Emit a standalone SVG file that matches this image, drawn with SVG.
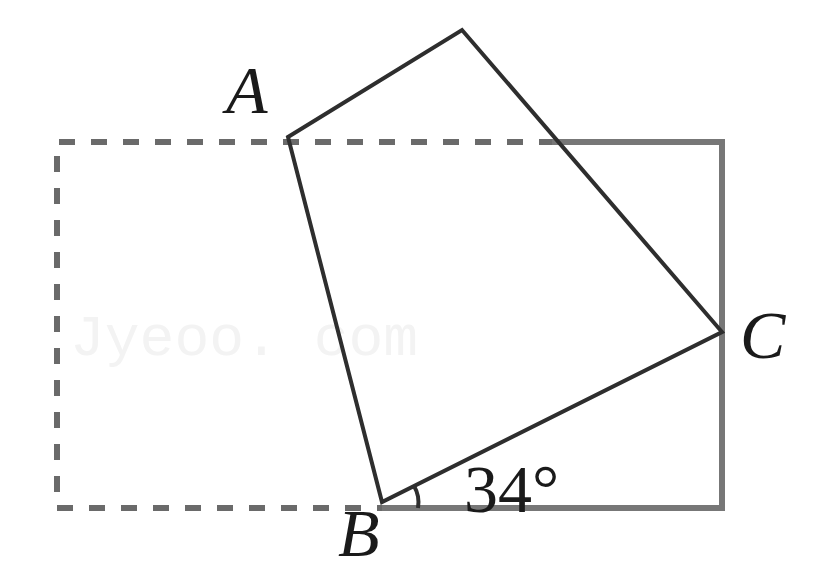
<svg xmlns="http://www.w3.org/2000/svg" width="820" height="571" viewBox="0 0 820 571">
<style>
.dash{fill:none;stroke:#6a6a6a;stroke-width:6;stroke-dasharray:16 16}
.rect{fill:none;stroke:#777;stroke-width:6;stroke-linecap:square}
.edge{fill:none;stroke:#2e2e2e;stroke-width:4;stroke-linejoin:miter}
.lbl{font-family:"Liberation Serif",serif;font-style:italic;font-size:68px;fill:#1a1a1a}
.num{font-family:"Liberation Serif",serif;font-size:68px;fill:#1a1a1a}
.wm{font-family:"Liberation Mono",monospace;font-size:58px;fill:#f3f3f3}
</style>
<rect width="820" height="571" fill="#fff"/>
<text class="wm" x="70" y="355">Jyeoo. com</text>
<g id="rectangle">
<path class="dash" d="M555 142 H57 V508 H385"/>
<path class="rect" d="M555 142 H722 V508 H385"/>
</g>
<g id="connectors">
<path class="edge" d="M288 137 L462 30 L722 332 L382 502 Z"/>
<path class="edge" d="M418 508 Q420 496 414 486" stroke-width="3"/>
</g>
<g id="A"><text class="lbl" x="226" y="113">A</text></g>
<g id="C"><text class="lbl" x="740" y="358">C</text></g>
<g id="B"><text class="lbl" x="338" y="556" font-size="64">B</text></g>
<g id="angle"><text class="num" x="464" y="512">34°</text></g>
</svg>
